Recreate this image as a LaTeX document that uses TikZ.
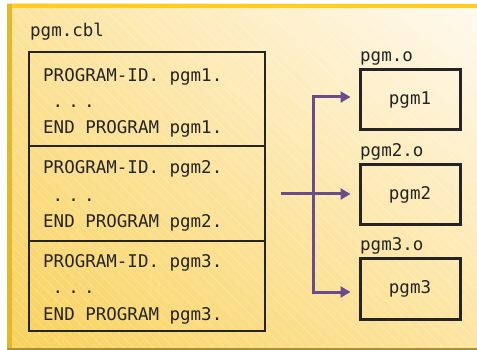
\documentclass[tikz,border=0pt]{standalone}
\usepackage{fontspec}
\setmonofont{DejaVu Sans Mono}
\usetikzlibrary{arrows.meta,calc,shadings}
\definecolor{bgdark}{HTML}{F8D25C}
\definecolor{bglight}{HTML}{FFFAF0}
\definecolor{bgmid}{HTML}{FCE4A0}
\definecolor{topbar}{HTML}{FFCC1F}
\definecolor{leftbar}{HTML}{E5B829}
\definecolor{botbar}{HTML}{A89038}
\definecolor{ink}{HTML}{242424}
\definecolor{arrowc}{HTML}{6A4C8C}
\begin{document}
\begin{tikzpicture}[x=1pt,y=-1pt,
  txt/.style={font=\fontsize{17.5}{20}\selectfont\ttfamily, text=ink, inner sep=0pt},
  codebox/.style={draw=ink, line width=2.8pt, minimum width=236pt, inner sep=0pt},
  objbox/.style={draw=ink, line width=3pt, minimum width=100pt, minimum height=60pt, inner sep=0pt, txt},
  flow/.style={draw=arrowc, line width=3pt, line join=miter, -{Triangle[length=10pt,width=11pt]}},
  hatch/.style={white, opacity=0.28, line width=0.6pt}
]
\useasboundingbox (0,0) rectangle (477,350);
\fill[white] (0,0) rectangle (477,350);
\shade[upper left=bgmid, upper right=bglight, lower left=bgdark, lower right=bgmid] (7,4) rectangle (477,350);
\begin{scope}
  \clip (7,4) rectangle (477,350);
  \foreach \i in {-400,-390,...,480} \draw[hatch] (\i,4) -- (\i+350,354);
\end{scope}
\fill[topbar] (7,4) rectangle (477,8.5);
\fill[leftbar] (7,4) rectangle (12,350);
\fill[botbar] (7,347.5) rectangle (477,350);

% source file
\node[txt, anchor=base west] (cbl) at (30,37) {pgm.cbl};
\node[codebox, minimum height=94pt] (b1) at (147,99) {};
\node[codebox, minimum height=95pt] (b2) at (147,193.5) {};
\node[codebox, minimum height=90pt] (b3) at (147,286) {};

\node[txt, anchor=base west] (a1) at (43,82) {PROGRAM-ID. pgm1.};
\node[txt, anchor=base west] (d1) at (52.4,108) {.\hspace{5.2pt}.\hspace{5.2pt}.};
\node[txt, anchor=base west] (e1) at (43,134) {END PROGRAM pgm1.};

\node[txt, anchor=base west] (a2) at (43,174) {PROGRAM-ID. pgm2.};
\node[txt, anchor=base west] (d2) at (52.4,201) {.\hspace{5.2pt}.\hspace{5.2pt}.};
\node[txt, anchor=base west] (e2) at (43,228) {END PROGRAM pgm2.};

\node[txt, anchor=base west] (a3) at (43,267.5) {PROGRAM-ID. pgm3.};
\node[txt, anchor=base west] (d3) at (52.4,293.5) {.\hspace{5.2pt}.\hspace{5.2pt}.};
\node[txt, anchor=base west] (e3) at (43,320.5) {END PROGRAM pgm3.};

% object files
\node[txt, anchor=base west] (l1) at (360,62) {pgm.o};
\node[txt, anchor=base west] (l2) at (360,157) {pgm2.o};
\node[txt, anchor=base west] (l3) at (360,251) {pgm3.o};
\node[objbox] (o1) at (410,100) {pgm1};
\node[objbox] (o2) at (410,195) {pgm2};
\node[objbox, minimum height=61pt] (o3) at (410,288.5) {pgm3};

% connectors
\coordinate (src) at ($(b2.east)+(15,0.5)$);
\coordinate (jn) at (313,194);
\draw[flow] (src) -- ($(o2.west)+(-8,-1)$);
\draw[flow] (jn) |- ($(o1.west)+(-8,-3)$);
\draw[flow] (jn) |- ($(o3.west)+(-8,3.5)$);
\end{tikzpicture}
\end{document}
